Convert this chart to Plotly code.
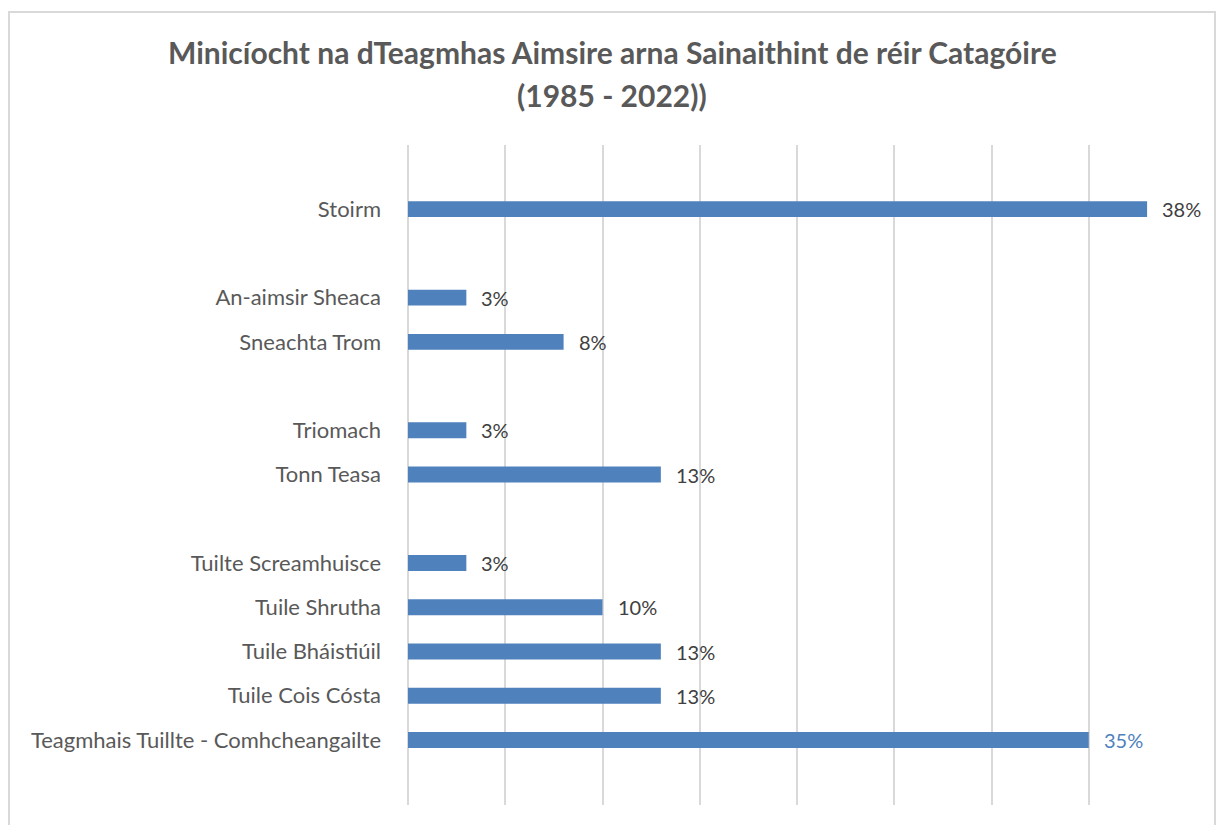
import plotly.graph_objects as go

# catégories de haut en bas ("" = ligne vide entre les groupes)
categories = ["Stoirm", "", "An-aimsir Sheaca", "Sneachta Trom", "",
              "Triomach", "Tonn Teasa", "",
              "Tuilte Screamhuisce", "Tuile Shrutha", "Tuile Bháistiúil",
              "Tuile Cois Cósta", "Teagmhais Tuillte - Comhcheangailte"]
values = [38, None, 3, 8, None, 3, 13, None, 3, 10, 13, 13, 35]
value_labels = ["38%", "", "3%", "8%", "", "3%", "13%", "", "3%", "10%", "13%", "13%", "35%"]

rows = list(range(len(categories)))
bar_y = [r for r, v in zip(rows, values) if v is not None]
bar_x = [v for v in values if v is not None]

W, H = 1222, 825
L, R, T, B = 408, 36, 145, 20

fig = go.Figure()
fig.add_trace(go.Bar(
    x=bar_x, y=bar_y, orientation="h", width=0.36,
    marker=dict(color="#4F81BD", line=dict(width=0)),
    hoverinfo="skip",
))

# étiquettes de valeurs
for r, v, lab in zip(rows, values, value_labels):
    if v is None:
        continue
    fig.add_annotation(
        x=v, y=r, text=lab, showarrow=False, xanchor="left", xshift=13,
        font=dict(family="Lato", size=20,
                  color="#4F81BD" if lab == "35%" else "#404040"),
    )

# cadre du graphique
fig.add_shape(type="rect", xref="paper", yref="paper",
              x0=(9 - L) / (W - L - R), x1=(1215 - L) / (W - L - R),
              y0=-1, y1=(H - B - 12) / (H - T - B),
              line=dict(color="#d9d9d9", width=2), layer="below")

# titre sur deux lignes
title_lines = ["Minicíocht na dTeagmhas Aimsire arna Sainaithint de réir Catagóire",
               "(1985 - 2022))"]
for i, line in enumerate(title_lines):
    fig.add_annotation(
        text=line, xref="paper", yref="paper", showarrow=False,
        x=(612 - L) / (W - L - R), y=(H - B - (52 + 43 * i)) / (H - T - B),
        xanchor="center", yanchor="middle",
        font=dict(family="Lato", size=30, color="#595959", weight="bold"),
    )

fig.update_layout(
    width=W, height=H,
    margin=dict(l=L, r=R, t=T, b=B),
    paper_bgcolor="white", plot_bgcolor="white",
    showlegend=False,
    xaxis=dict(range=[0, 40], dtick=5, showticklabels=False,
               showgrid=True, gridcolor="#d9d9d9", gridwidth=2,
               zeroline=True, zerolinecolor="#d9d9d9", zerolinewidth=2,
               fixedrange=True),
    yaxis=dict(range=[13.47, -1.45], tickmode="array",
               tickvals=[r for r, c in zip(rows, categories) if c],
               ticktext=[c for c in categories if c],
               showgrid=False, zeroline=False, ticklabelstandoff=26,
               tickfont=dict(family="Lato", size=22, color="#595959")),
)

fig.write_html("out.html", config={"displayModeBar": False},
               post_script="document.body.style.margin='0';")
